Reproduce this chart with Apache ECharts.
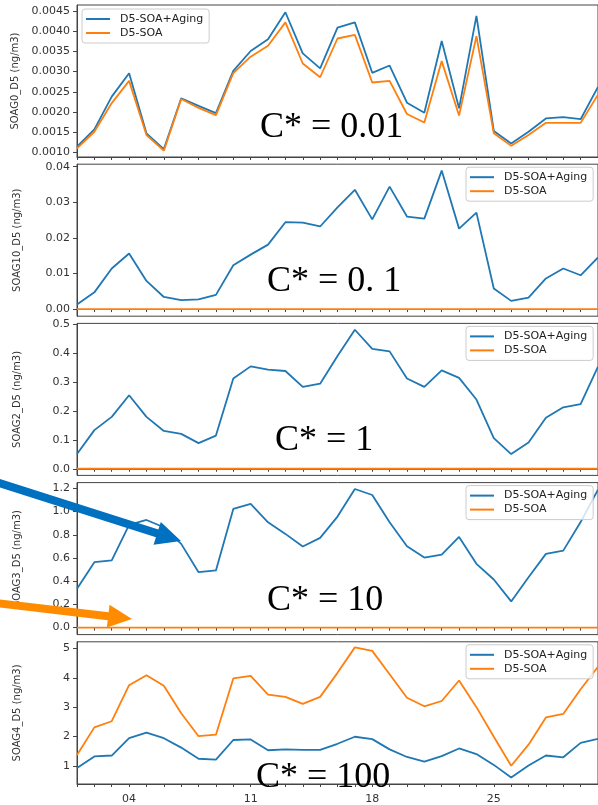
<!DOCTYPE html>
<html>
<head>
<meta charset="utf-8">
<script src="https://cdn.jsdelivr.net/npm/echarts@6/dist/echarts.min.js"></script>
<style>
  html, body { margin: 0; padding: 0; background: #fff; }
  #main { width: 598px; height: 805px; }
</style>
</head>
<body>
<div id="main"></div>
<script>
// days of the month (x axis)
var days = [];
for (var d = 1; d <= 31; d++) days.push(d < 10 ? '0' + d : '' + d);
var shownDays = ['04', '11', '18', '25'];

var seriesNames = ['D5-SOA+Aging', 'D5-SOA'];

// C* = 0.01
var agingG0 = [0.00114,0.00157,0.00238,0.00296,0.00147,0.00108,0.00234,0.00215,0.00197,0.00302,0.00351,0.0038,0.00447,0.00345,0.00308,0.00409,0.00422,0.00297,0.00315,0.00223,0.00198,0.00376,0.00209,0.00438,0.00153,0.00122,0.00151,0.00184,0.00187,0.00182,0.00262];
var soaG0 = [0.0011,0.00151,0.00222,0.00277,0.00143,0.00104,0.00232,0.0021,0.00192,0.00296,0.00337,0.00364,0.00422,0.0032,0.00286,0.00382,0.00391,0.00273,0.00277,0.00195,0.00174,0.00326,0.00191,0.00388,0.00147,0.00116,0.00143,0.00173,0.00173,0.00173,0.00243];
// C* = 0.1
var agingG10 = [0.0013,0.0047,0.0114,0.0156,0.0079,0.0034,0.0025,0.0027,0.0040,0.0123,0.0153,0.0181,0.0244,0.0243,0.0232,0.0286,0.0335,0.0252,0.0344,0.026,0.0254,0.0389,0.0226,0.0271,0.0058,0.0023,0.0032,0.0086,0.0114,0.0095,0.0145];
var soaG10 = [0,0,0,0,0,0,0,0,0,0,0,0,0,0,0,0,0,0,0,0,0,0,0,0,0,0,0,0,0,0,0];
// C* = 1
var agingG2 = [0.051,0.134,0.180,0.255,0.180,0.131,0.121,0.089,0.115,0.313,0.355,0.344,0.339,0.284,0.295,0.391,0.482,0.416,0.407,0.313,0.284,0.341,0.315,0.240,0.106,0.051,0.091,0.177,0.213,0.224,0.354];
var soaG2 = [0,0,0,0,0,0,0,0,0,0,0,0,0,0,0,0,0,0,0,0,0,0,0,0,0,0,0,0,0,0,0];
// C* = 10
var agingG3 = [0.335,0.564,0.579,0.885,0.928,0.865,0.722,0.478,0.493,1.023,1.066,0.908,0.808,0.699,0.774,0.957,1.195,1.143,0.908,0.701,0.604,0.630,0.782,0.550,0.415,0.226,0.435,0.636,0.664,0.91,1.19];
var soaG3 = [0,0,0,0,0,0,0,0,0,0,0,0,0,0,0,0,0,0,0,0,0,0,0,0,0,0,0,0,0,0,0];
// C* = 100
var agingG4 = [0.92,1.32,1.35,1.94,2.13,1.94,1.62,1.24,1.21,1.88,1.90,1.53,1.56,1.54,1.54,1.75,1.99,1.91,1.56,1.30,1.14,1.33,1.59,1.40,1.03,0.60,1.01,1.35,1.29,1.78,1.92];
var soaG4 = [1.37,2.31,2.52,3.75,4.09,3.73,2.79,2.01,2.06,3.98,4.07,3.43,3.35,3.11,3.35,4.17,5.04,4.92,4.12,3.32,3.03,3.21,3.91,3.00,1.99,1.00,1.72,2.65,2.77,3.61,4.38];

// y tick values per panel
var ticksG0 = [0.0010,0.0015,0.0020,0.0025,0.0030,0.0035,0.0040,0.0045];
var ticksG10 = [0.00,0.01,0.02,0.03,0.04];
var ticksG2 = [0.0,0.1,0.2,0.3,0.4,0.5];
var ticksG3 = [0.0,0.2,0.4,0.6,0.8,1.0,1.2];
var ticksG4 = [1,2,3,4,5];

var yNames = ['SOAG0_D5 (ng/m3)','SOAG10_D5 (ng/m3)','SOAG2_D5 (ng/m3)','SOAG3_D5 (ng/m3)','SOAG4_D5 (ng/m3)'];
var cLabels = ['C* = 0.01','C* = 0. 1','C* = 1','C* = 10','C* = 100'];

var panels = [
  {aging: agingG0, soa: soaG0, ticks: ticksG0, dec: 4, min: 0.000884, max: 0.00465},
  {aging: agingG10, soa: soaG10, ticks: ticksG10, dec: 2, min: -0.002, max: 0.0407},
  {aging: agingG2, soa: soaG2, ticks: ticksG2, dec: 1, min: -0.023, max: 0.504},
  {aging: agingG3, soa: soaG3, ticks: ticksG3, dec: 1, min: -0.06, max: 1.25},
  {aging: agingG4, soa: soaG4, ticks: ticksG4, dec: 0, min: 0.378, max: 5.23}
];

var blue = '#1f77b4', orange = '#ff7f0e', ink = '#333';
var font = 'DejaVu Sans';
var panelTop = 5, panelStep = 159.2, panelH = 152;
// top-left of each "C* = ..." label
var cPos = [[260,110],[267,264],[275,423],[267,583],[256,760]];

var grids = [], xAxes = [], yAxes = [], series = [], legends = [], graphics = [];

panels.forEach(function (p, i) {
  var top = panelTop + i * panelStep;
  grids.push({left: 77, width: 528, top: top, height: panelH, show: true,
    borderColor: '#444', borderWidth: 1, backgroundColor: 'transparent'});
  xAxes.push({
    type: 'category', gridIndex: i, data: days, boundaryGap: false,
    axisLine: {lineStyle: {color: '#444', width: 1}},
    axisTick: {show: true, interval: 0, length: 3, lineStyle: {color: '#444'}},
    axisLabel: {
      show: i === panels.length - 1, margin: 10, color: ink, fontFamily: font, fontSize: 11,
      interval: function (idx, val) { return shownDays.indexOf(val) >= 0; }
    },
    splitLine: {show: false}
  });
  yAxes.push({
    type: 'value', gridIndex: i, min: p.min, max: p.max,
    name: yNames[i], nameLocation: 'middle', nameGap: 55,
    nameTextStyle: {fontFamily: font, fontSize: 10, color: ink},
    axisLine: {show: true, lineStyle: {color: '#444', width: 1}},
    axisTick: {show: true, length: 4, customValues: p.ticks, lineStyle: {color: '#444'}},
    axisLabel: {
      customValues: p.ticks, margin: 7, color: ink, fontFamily: font, fontSize: 11,
      formatter: (function (dec) { return function (v) { return v.toFixed(dec); }; })(p.dec)
    },
    splitLine: {show: false}
  });
  series.push({
    name: seriesNames[0], type: 'line', xAxisIndex: i, yAxisIndex: i, data: p.aging,
    showSymbol: false, symbol: 'none', lineStyle: {color: blue, width: 1.8}, itemStyle: {color: blue},
    animation: false, z: 2
  });
  series.push({
    name: seriesNames[1], type: 'line', xAxisIndex: i, yAxisIndex: i, data: p.soa,
    showSymbol: false, symbol: 'none', lineStyle: {color: orange, width: 1.8}, itemStyle: {color: orange},
    animation: false, z: 3
  });
  legends.push({
    data: seriesNames, orient: 'vertical',
    left: i === 0 ? 82 : 466, top: i === 0 ? 9 : top + 3,
    icon: 'rect', itemWidth: 24, itemHeight: 2, itemGap: 2,
    padding: [4, 6, 4, 4],
    borderColor: '#ccc', borderWidth: 1, borderRadius: 3,
    backgroundColor: 'rgba(255,255,255,0.8)',
    textStyle: {fontFamily: font, fontSize: 11, color: '#222', lineHeight: 12, padding: [0, 0, 0, 5]},
    selectedMode: false
  });
  graphics.push({
    type: 'text', x: cPos[i][0], y: cPos[i][1], z: 50,
    style: {text: cLabels[i], font: '36px "Liberation Serif", "Times New Roman", serif', fill: '#000'}
  });
});

// helper for the two pointing arrows (annotation)
function arrow(x0, y0, x1, y1, shaft, headLen, headW, color) {
  var dx = x1 - x0, dy = y1 - y0, L = Math.sqrt(dx * dx + dy * dy);
  var ux = dx / L, uy = dy / L, nx = -uy, ny = ux;
  var bx = x1 - ux * headLen, by = y1 - uy * headLen;
  var s = shaft / 2, h = headW / 2;
  return {
    type: 'polygon', z: 60,
    shape: {points: [
      [x0 + nx * s, y0 + ny * s], [bx + nx * s, by + ny * s], [bx + nx * h, by + ny * h],
      [x1, y1],
      [bx - nx * h, by - ny * h], [bx - nx * s, by - ny * s], [x0 - nx * s, y0 - ny * s]
    ]},
    style: {fill: color}
  };
}
graphics.push(arrow(-4, 482, 181, 541, 8, 25, 24, '#0070c0'));
graphics.push(arrow(-4, 603, 132, 619, 8, 24, 23, '#ff8c00'));

var myChart = echarts.init(document.getElementById('main'));
myChart.setOption({
  animation: false,
  backgroundColor: '#fff',
  grid: grids,
  xAxis: xAxes,
  yAxis: yAxes,
  legend: legends,
  series: series,
  graphic: graphics
});
</script>
</body>
</html>
